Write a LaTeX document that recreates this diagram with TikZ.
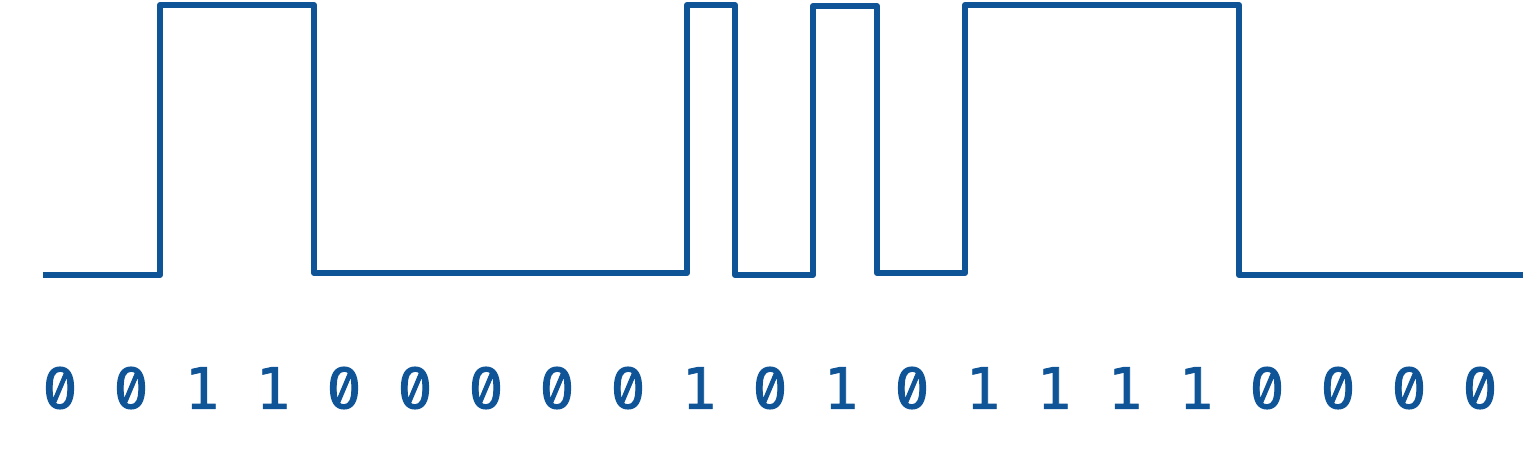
\documentclass[tikz,border=0pt]{standalone}
\usepackage{fontspec}
\usepackage{tikz}
\usepackage{xcolor}
\usetikzlibrary{positioning}
\newfontfamily\zerofont[RawFeature=+zero, FakeBold=1.5]{Fira Sans}
\newfontfamily\onefont[FakeBold=1.5]{DejaVu Sans Mono}
\definecolor{sigblue}{RGB}{14,84,150}
\tikzset{
    signal/.style={sigblue, line width=3pt, line join=round},
    bitlabel/.style={sigblue, inner sep=0pt}
}

\begin{document}
\begin{tikzpicture}[x=0.5pt, y=-0.5pt]
        \useasboundingbox (0,0) rectangle (1540,467);

        % Signal
        \draw[signal] (43,275) -- (160,275) -- (160,5) -- (314,5) -- (314,273) -- (687,273) -- (687,5) -- (735,5) -- (735,275) -- (813,275) -- (813,6) -- (877,6) -- (877,273) -- (965,273) -- (965,5) -- (1239,5) -- (1239,275) -- (1523,275);

        % Bit labels
        \foreach \b [count=\i from 0] in {0,0,1,1,0,0,0,0,0,1,0,1,0,1,1,1,1,0,0,0,0}
            \node[bitlabel] (bit\i) at (60+71*\i, 388) {\ifnum\b=0 \zerofont\fontsize{30.5}{30.5}\selectfont\else\onefont\fontsize{28.5}{28.5}\selectfont\fi\b};
\end{tikzpicture}
\end{document}
